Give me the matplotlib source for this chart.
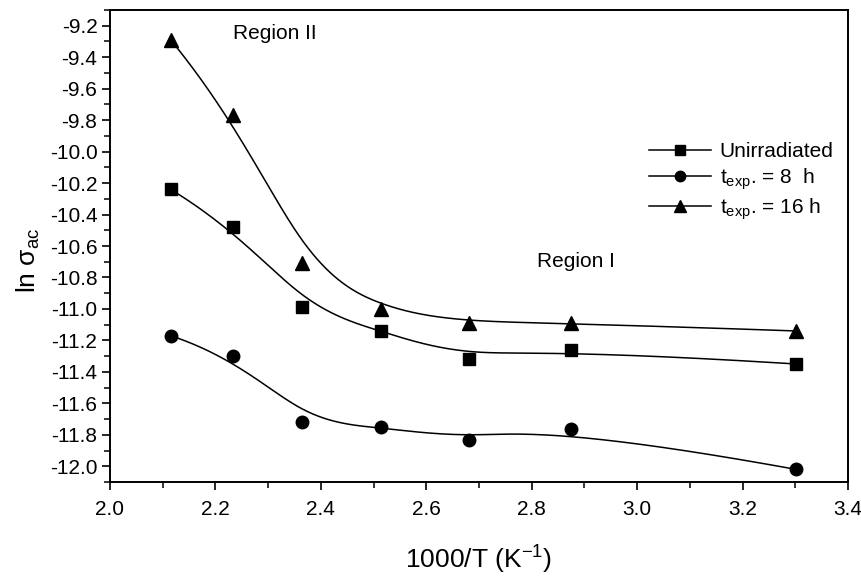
import numpy as np
import matplotlib
matplotlib.use("Agg")
import matplotlib.pyplot as plt
from matplotlib.ticker import MultipleLocator, FormatStrFormatter

plt.rcParams['font.family'] = ['Liberation Sans', 'DejaVu Sans']
plt.rcParams['mathtext.fontset'] = 'custom'
plt.rcParams['mathtext.rm'] = 'Liberation Sans'
plt.rcParams['mathtext.it'] = 'Liberation Sans:italic'
plt.rcParams['mathtext.sf'] = 'Liberation Sans'

# 1000/T values
inv_T = [2.115, 2.233, 2.364, 2.514, 2.681, 2.874, 3.302]

# ln sigma_ac for each sample
unirradiated = [-10.24, -10.48, -10.99, -11.14, -11.32, -11.26, -11.35]
exp_8h = [-11.17, -11.30, -11.72, -11.75, -11.83, -11.76, -12.02]
exp_16h = [-9.29, -9.77, -10.71, -11.00, -11.09, -11.09, -11.14]

labels = ["Unirradiated", r"t$_{\mathrm{exp}}$. = 8  h", r"t$_{\mathrm{exp}}$. = 16 h"]


def bspline_curve(x, y, n=400, k=3):
    """Clamped cubic B-spline using the data points as control points."""
    pts = np.column_stack([x, y])
    m = len(pts)
    knots = np.concatenate([np.zeros(k), np.arange(m - k + 1), np.full(k, m - k)]).astype(float)
    u = np.linspace(0, m - k, n)
    u[-1] -= 1e-9
    # Cox-de Boor
    N = np.zeros((n, len(knots) - 1))
    for i in range(len(knots) - 1):
        N[:, i] = (u >= knots[i]) & (u < knots[i + 1])
    for d in range(1, k + 1):
        Nn = np.zeros((n, len(knots) - 1 - d))
        for i in range(len(knots) - 1 - d):
            a = knots[i + d] - knots[i]
            b = knots[i + d + 1] - knots[i + 1]
            t1 = (u - knots[i]) / a * N[:, i] if a > 0 else 0
            t2 = (knots[i + d + 1] - u) / b * N[:, i + 1] if b > 0 else 0
            Nn[:, i] = t1 + t2
        N = Nn
    curve = N @ pts
    return curve[:, 0], curve[:, 1]


fig = plt.figure(figsize=(8.62, 5.77), dpi=100)
ax = fig.add_axes([0.1276, 0.1646, 0.8562, 0.8181])

series = [(unirradiated, 's', 9), (exp_8h, 'o', 9), (exp_16h, '^', 10)]
for (vals, mk, ms), lab in zip(series, labels):
    cx, cy = bspline_curve(inv_T, vals)
    ax.plot(cx, cy, color='black', lw=1.1)
    ax.plot(inv_T, vals, linestyle='none', marker=mk, ms=ms, color='black')
    # legend proxy
    ax.plot([], [], color='black', lw=1.1, marker=mk, ms=ms - 1.5, label=lab)

ax.set_xlim(2.0, 3.4)
ax.set_ylim(-12.1, -9.1)
ax.xaxis.set_major_locator(MultipleLocator(0.2))
ax.xaxis.set_minor_locator(MultipleLocator(0.1))
ax.yaxis.set_major_locator(MultipleLocator(0.2))
ax.yaxis.set_minor_locator(MultipleLocator(0.1))
ax.xaxis.set_major_formatter(FormatStrFormatter('%.1f'))
ax.yaxis.set_major_formatter(FormatStrFormatter('%.1f'))

ax.tick_params(which='major', direction='out', length=6, width=1.2, labelsize=15, pad=3)
ax.tick_params(axis='x', which='major', pad=7)
ax.tick_params(which='minor', direction='out', length=4, width=1.1)
for sp in ax.spines.values():
    sp.set_linewidth(1.4)

ax.set_xlabel(r'1000/T (K$^{\mathrm{-1}}$)', fontsize=19, labelpad=18)
ax.set_ylabel(r'ln $\mathrm{\sigma}_{\mathrm{ac}}$', fontsize=19)
ax.yaxis.set_label_coords(-0.092, 0.47)

ax.text(2.234, -9.25, 'Region II', fontsize=15, va='center', ha='left')
ax.text(2.81, -10.70, 'Region I', fontsize=15, va='center', ha='left')

ax.legend(loc='upper left', bbox_to_anchor=(0.719, 0.737), frameon=False,
          fontsize=15, handlelength=3.0, handletextpad=0.4, labelspacing=0.22,
          borderaxespad=0)

fig.savefig('out.png', dpi=100)
